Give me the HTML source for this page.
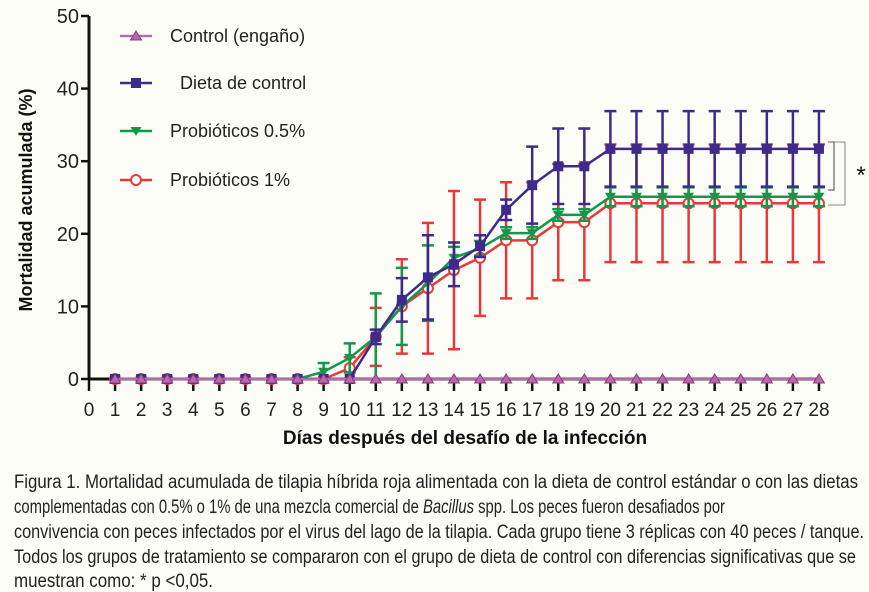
<!DOCTYPE html>
<html><head><meta charset="utf-8"><style>
html,body{margin:0;padding:0;background:#fdfdf8;}
svg{display:block;font-family:"Liberation Sans",sans-serif;}
</style></head><body>
<svg id="chart" width="869" height="592" viewBox="0 0 869 592" xmlns="http://www.w3.org/2000/svg">
<rect width="869" height="592" fill="#fdfdf8"/>
<g id="axes"></g>
<g id="series"></g>
<g id="legend"></g>
<g>
<path d="M828 142 H834 V190 H828" fill="none" stroke="#444" stroke-width="1"/>
<path d="M828 142 H845 V205 H828" fill="none" stroke="#666" stroke-width="0.8"/>
<text x="861" y="183" font-size="24" text-anchor="middle" fill="#111">*</text>
</g>
<text transform="translate(32,200) rotate(-90)" text-anchor="middle" font-size="18" font-weight="bold" fill="#111">Mortalidad acumulada (%)</text>
<text x="465" y="444" text-anchor="middle" font-size="19" font-weight="bold" fill="#111">Días después del desafío de la infección</text>
<g font-size="19" fill="#222">
<text x="14" y="488" textLength="844" lengthAdjust="spacingAndGlyphs">Figura 1. Mortalidad acumulada de tilapia híbrida roja alimentada con la dieta de control estándar o con las dietas</text>
<text x="14" y="513" textLength="711" lengthAdjust="spacingAndGlyphs">complementadas con 0.5% o 1% de una mezcla comercial de <tspan font-style="italic">Bacillus</tspan> spp. Los peces fueron desafiados por</text>
<text x="14" y="538" textLength="850" lengthAdjust="spacingAndGlyphs">convivencia con peces infectados por el virus del lago de la tilapia. Cada grupo tiene 3 réplicas con 40 peces / tanque.</text>
<text x="14" y="563" textLength="842" lengthAdjust="spacingAndGlyphs">Todos los grupos de tratamiento se compararon con el grupo de dieta de control con diferencias significativas que se</text>
<text x="14" y="587" textLength="199" lengthAdjust="spacingAndGlyphs">muestran como: * p &lt;0,05.</text>
</g>
</svg>
<script>
const days = [1,2,3,4,5,6,7,8,9,10,11,12,13,14,15,16,17,18,19,20,21,22,23,24,25,26,27,28];
const xTicks = [0,1,2,3,4,5,6,7,8,9,10,11,12,13,14,15,16,17,18,19,20,21,22,23,24,25,26,27,28];
const yTicks = [0,10,20,30,40,50];
const controlVals = [0,0,0,0,0,0,0,0,0,0,0,0,0,0,0,0,0,0,0,0,0,0,0,0,0,0,0,0];
const dietVals = [0,0,0,0,0,0,0,0,0,0,5.8,10.9,14,15.8,18.3,23.3,26.7,29.3,29.3,31.7,31.7,31.7,31.7,31.7,31.7,31.7,31.7,31.7];
const dietErr = [0,0,0,0,0,0,0,0,0,0,1,3,5.8,3,1.5,1.4,5.3,5.2,5.2,5.2,5.2,5.2,5.2,5.2,5.2,5.2,5.2,5.2];
const p05Vals = [0,0,0,0,0,0,0,0,1,2.9,5.8,10,13.2,16.7,18,20.1,20.1,22.6,22.6,25.1,25.1,25.1,25.1,25.1,25.1,25.1,25.1,25.1];
const p05Err = [0,0,0,0,0,0,0,0,1.2,2,6,5.3,5.2,1.5,1,0.8,0.8,0.8,0.8,1.3,1.3,1.3,1.3,1.3,1.3,1.3,1.3,1.3];
const p1Vals = [0,0,0,0,0,0,0,0,0,1.5,5.8,10,12.5,15,16.7,19.1,19.1,21.6,21.6,24.2,24.2,24.2,24.2,24.2,24.2,24.2,24.2,24.2];
const p1Err = [0,0,0,0,0,0,0,0,0,1.5,4,6.5,9,10.9,8,8,8,8,8,8.1,8.1,8.1,8.1,8.1,8.1,8.1,8.1,8.1];

const NS="http://www.w3.org/2000/svg";
const X0=89, DX=26.07, Y0=379, YS=7.26;
const xs = d => X0 + d*DX;
const ys = v => Y0 - v*YS;
function mk(tag, attrs, parent){const e=document.createElementNS(NS,tag);for(const k in attrs)e.setAttribute(k,attrs[k]);parent.appendChild(e);return e;}

const axes=document.getElementById('axes');
let yl=mk('line',{x1:X0,y1:ys(50),x2:X0,y2:Y0+1,stroke:'#111','stroke-width':3},axes);


let xl=mk('line',{x1:X0-1,y1:Y0,x2:xs(28),y2:Y0,stroke:'#111','stroke-width':3},axes);


yTicks.forEach(v=>{
  let t=mk('line',{x1:X0-8,y1:ys(v),x2:X0,y2:ys(v),stroke:'#111','stroke-width':2.5},axes);
  
  
  let l=mk('text',{x:X0-10,y:ys(v)+7,'text-anchor':'end','font-size':20,fill:'#222'},axes);
  l.textContent=v;
  
  
});
xTicks.forEach(d=>{
  let t=mk('line',{x1:xs(d),y1:Y0,x2:xs(d),y2:Y0+12,stroke:'#111','stroke-width':2.5},axes);
  
  
  let l=mk('text',{x:xs(d),y:416,'text-anchor':'middle','font-size':19,fill:'#222'},axes);
  l.textContent=d;
  
  
});

const sg=document.getElementById('series');
function marker(kind,x,y,color,parent){
  let m;
  if(kind==='square') m=mk('rect',{x:x-5,y:y-5,width:10,height:10,fill:color},parent);
  else if(kind==='circle') m=mk('circle',{cx:x,cy:y,r:5,fill:'#fdfdf8',stroke:color,'stroke-width':2},parent);
  else if(kind==='tridown') m=mk('path',{d:`M${x-5.5} ${y-4}L${x+5.5} ${y-4}L${x} ${y+5}Z`,fill:color},parent);
  else m=mk('path',{d:`M${x-5.5} ${y+4}L${x+5.5} ${y+4}L${x} ${y-5}Z`,fill:color,stroke:'#8a3a80','stroke-width':1},parent);
  return m;
}
function drawSeries(name,vals,errs,color,kind){
  const g=mk('g',{},sg);
  
  
  if(errs){
    vals.forEach((v,i)=>{
      if(!errs[i]) return;
      const x=xs(days[i]);
      const e=mk('path',{d:`M${x} ${ys(v+errs[i])}V${ys(Math.max(0,v-errs[i]))}M${x-6} ${ys(v+errs[i])}H${x+6}M${x-6} ${ys(Math.max(0,v-errs[i]))}H${x+6}`,stroke:color,'stroke-width':2.5,fill:'none'},g);
      
      
    });
  }
  const d=vals.map((v,i)=>(i?'L':'M')+xs(days[i])+' '+ys(v)).join('');
  const p=mk('path',{d:d,stroke:color,'stroke-width':2.5,fill:'none'},g);
  
  
  vals.forEach((v,i)=>{
    const m=marker(kind,xs(days[i]),ys(v),color,g);
    
    
  });
}
drawSeries('probioticos-1',p1Vals,p1Err,'#e8393a','circle');
drawSeries('probioticos-05',p05Vals,p05Err,'#13984a','tridown');
drawSeries('dieta-control',dietVals,dietErr,'#3d2a8a','square');
drawSeries('control-engano',controlVals,null,'#b86aa8','triup');

const lg=document.getElementById('legend');
const entries=[['Control (engaño)','#b86aa8','triup',36],['  Dieta de control','#3d2a8a','square',83],['Probióticos 0.5%','#13984a','tridown',131],['Probióticos 1%','#e8393a','circle',180]];
entries.forEach(e=>{
  const g=mk('g',{},lg);
  
  
  mk('line',{x1:120,y1:e[3],x2:152,y2:e[3],stroke:e[1],'stroke-width':2.5},g);
  marker(e[2],136,e[3],e[1],g);
  const t=mk('text',{x:170,y:e[3]+6,'font-size':18,fill:'#222'},g);
  t.textContent=e[0];
  t.setAttribute('style','white-space:pre');
});
</script>
</body></html>
